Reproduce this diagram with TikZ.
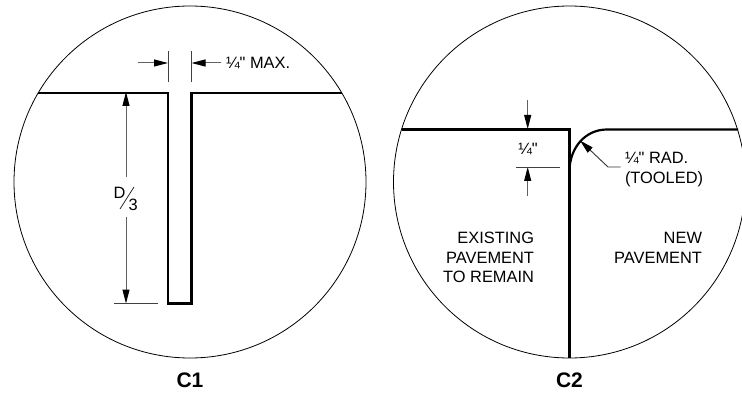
\documentclass[tikz,border=0pt]{standalone}
\usepackage{fontspec}
\newfontfamily\lblfont{Liberation Sans}
\usetikzlibrary{arrows.meta}
\tikzset{
  x=1pt,y=-1pt,
  rim/.style={draw=black,line width=0.8pt},
  joint/.style={draw=black,line width=2.2pt,line cap=butt,line join=miter},
  dimline/.style={draw=black!62,line width=1pt},
  witness/.style={draw=black!75,line width=0.8pt},
  dimarrow/.style={dimline,-{Triangle[length=14pt,width=7pt,color=black,fill=black]}},
  leader/.style={draw=black!80,line width=0.9pt,-{Triangle[length=14pt,width=7pt,color=black,fill=black]}},
  lbl/.style={inner sep=0pt,outer sep=0pt,font=\lblfont\fontsize{16.4}{16}\selectfont,text=black},
  title/.style={inner sep=0pt,outer sep=0pt,font=\lblfont\fontsize{21}{22}\selectfont\bfseries},
}
\begin{document}
\begin{tikzpicture}
\useasboundingbox (0,0) rectangle (742,393);
\clip (0,0) rectangle (742,393);
% C1
\node[circle,rim,minimum size=352pt,inner sep=0pt] (circA) at (190,182) {};
\coordinate (a1) at (38,93);
\coordinate (a2) at (168,93);
\coordinate (a3) at (168,303.5);
\coordinate (a4) at (191.5,303.5);
\coordinate (a5) at (191.5,93);
\coordinate (a6) at (342,93);
\draw[joint] (a1) -- (a2) -- (a3) -- (a4) -- (a5) -- (a6);
\coordinate (w1t) at (168,51); \coordinate (w1b) at (168,82);
\coordinate (w2t) at (191.5,51); \coordinate (w2b) at (191.5,82);
\draw[witness] (w1t) -- (w1b);
\draw[witness] (w2t) -- (w2b);
\coordinate (wa) at (138,63); \coordinate (wat) at (168,63);
\coordinate (wb) at (221,63); \coordinate (wbt) at (191.5,63);
\draw[dimarrow] (wa) -- (wat);
\draw[dimarrow] (wb) -- (wbt);
\node[lbl,anchor=base west] (maxlabel) at (226,69) {¼" MAX.};
\coordinate (d1) at (126,177); \coordinate (d1t) at (126,92);
\coordinate (d2) at (126,217); \coordinate (d2t) at (126,303.5);
\draw[dimarrow] (d1) -- (d1t);
\draw[dimarrow] (d2) -- (d2t);
\coordinate (e1) at (114,303.5); \coordinate (e2) at (158,303.5);
\draw[witness] (e1) -- (e2);
\node[lbl,anchor=base west] (dnum) at (113.5,198) {D};
\coordinate (s1) at (120,209); \coordinate (s2) at (134,187);
\draw[draw=black!85,line width=0.8pt] (s1) -- (s2);
\node[lbl,anchor=base west] (ddenom) at (128.5,211) {3};
\node[title] (titleA) at (190,380.5) {C1};
% C2
\node[circle,rim,minimum size=352pt,inner sep=0pt] (circB) at (569.5,182) {};
\coordinate (b1) at (401.7,129.5);
\coordinate (b2) at (569.5,129.5);
\coordinate (b3) at (569.5,358);
\draw[joint] (b1) -- (b2) -- (b3);
\coordinate (c1) at (569.5,170);
\coordinate (c2) at (607,129.5);
\coordinate (c3) at (738,129.5);
\draw[joint] (c1) .. controls (570,148) and (585,129.5) .. (c2) -- (c3);
\coordinate (h1) at (527.7,100); \coordinate (h1t) at (527.7,129);
\coordinate (h2) at (527.7,196); \coordinate (h2t) at (527.7,167);
\draw[dimarrow] (h1) -- (h1t);
\draw[dimarrow] (h2) -- (h2t);
\coordinate (f1) at (516,167); \coordinate (f2) at (560,167);
\draw[witness] (f1) -- (f2);
\node[lbl,anchor=base] (quarter) at (528,155) {¼"};
\coordinate (l1) at (620.5,167); \coordinate (l2) at (608,167); \coordinate (l3) at (580,140.5);
\draw[leader] (l1) -- (l2) -- (l3);
\node[lbl,anchor=base west] (radlabel) at (625,164) {¼" RAD.};
\node[lbl,anchor=base west] (tooled) at (625,183) {(TOOLED)};
\node[lbl,anchor=base east] (ex1) at (534,243) {EXISTING};
\node[lbl,anchor=base east] (ex2) at (534,263) {PAVEMENT};
\node[lbl,anchor=base east] (ex3) at (534,282.5) {TO REMAIN};
\node[lbl,anchor=base east] (nw1) at (702,243) {NEW};
\node[lbl,anchor=base east] (nw2) at (702,263) {PAVEMENT};
\node[title] (titleB) at (569.5,380.5) {C2};
\end{tikzpicture}
\end{document}
